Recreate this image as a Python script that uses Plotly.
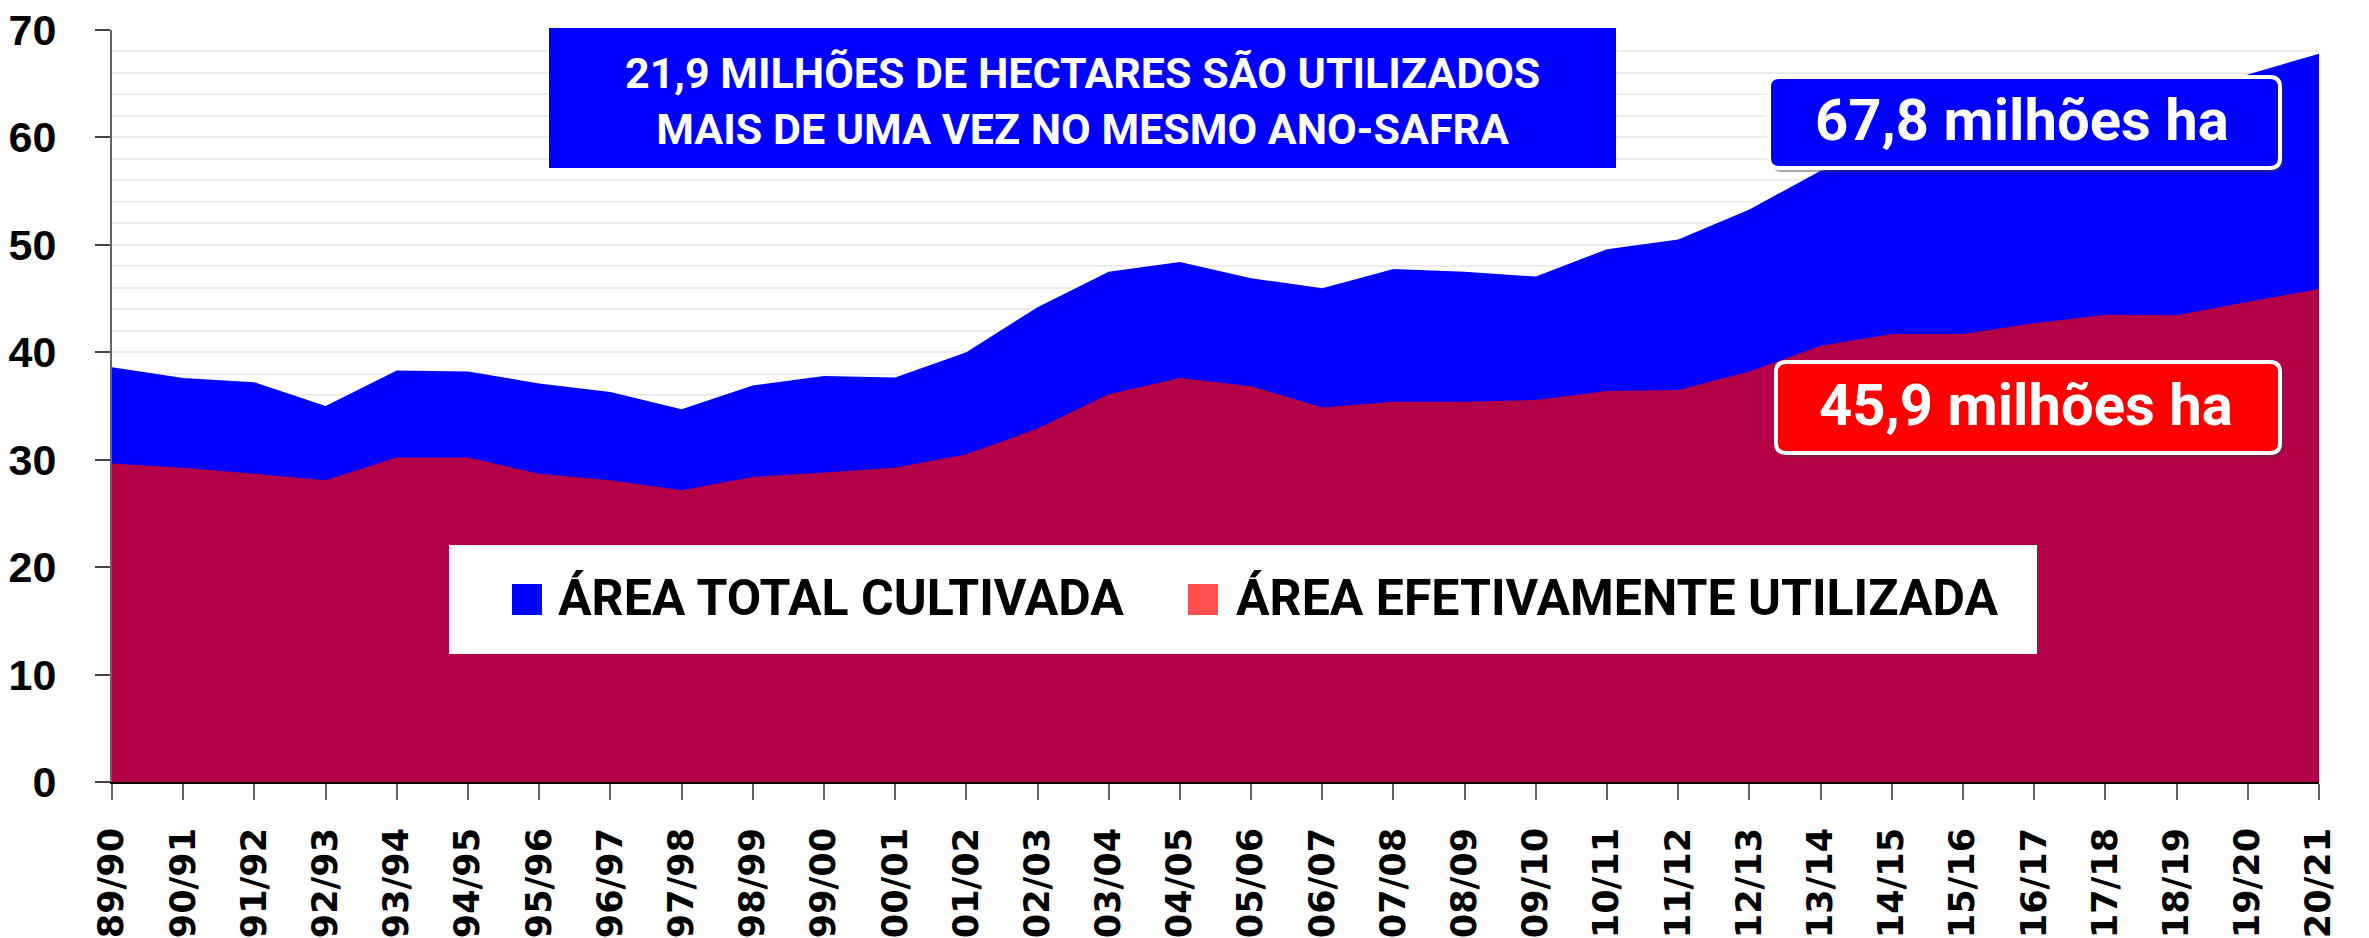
import plotly.graph_objects as go

# safras (crop years) and areas in millions of hectares
safras = ["89/90", "90/91", "91/92", "92/93", "93/94", "94/95", "95/96", "96/97",
          "97/98", "98/99", "99/00", "00/01", "01/02", "02/03", "03/04", "04/05",
          "05/06", "06/07", "07/08", "08/09", "09/10", "10/11", "11/12", "12/13",
          "13/14", "14/15", "15/16", "16/17", "17/18", "18/19", "19/20", "20/21"]

area_total = [38.6, 37.6, 37.2, 35.0, 38.3, 38.2, 37.1, 36.3, 34.7, 36.9,
              37.8, 37.65, 40.0, 44.2, 47.5, 48.4, 46.9, 45.95, 47.75, 47.5, 47.05,
              49.6, 50.5, 53.3, 56.9, 57.9, 58.3, 60.9, 61.7, 62.7, 65.85, 67.8]

area_efetiva = [29.65, 29.25, 28.7, 28.1, 30.2, 30.2, 28.7, 28.1, 27.15, 28.4,
                28.8, 29.25, 30.5, 32.9, 36.1, 37.6, 36.85, 34.85, 35.4, 35.4, 35.55,
                36.4, 36.5, 38.2, 40.6, 41.7, 41.7, 42.7, 43.5, 43.45, 44.7, 45.9]

legend_names = ["ÁREA TOTAL CULTIVADA", "ÁREA EFETIVAMENTE UTILIZADA"]
banner_text = "21,9 MILHÕES DE HECTARES SÃO UTILIZADOS<br>MAIS DE UMA VEZ NO MESMO ANO-SAFRA"
label_total = "67,8 milhões ha"
label_efetiva = "45,9 milhões ha"

BLUE = "#0000FF"
WINE = "#B30047"
RED = "#FF0000"
SWATCH_RED = "#FF4F4F"

W, H = 2369, 938
ML, MR, MT, MB = 112, 50, 30, 156
PW, PH = W - ML - MR, H - MT - MB


def px_x(x):
    return (x - ML) / PW


def px_y(y):
    return (H - MB - y) / PH


def rounded(x0, y0, x1, y1, r):
    # x0,y0,x1,y1 in pixels (y down), returns svg path in paper coords
    a, b, c, d = px_x(x0), px_y(y1), px_x(x1), px_y(y0)
    rx, ry = r / PW, r / PH
    return (f"M {a+rx},{b} L {c-rx},{b} Q {c},{b} {c},{b+ry} "
            f"L {c},{d-ry} Q {c},{d} {c-rx},{d} L {a+rx},{d} "
            f"Q {a},{d} {a},{d-ry} L {a},{b+ry} Q {a},{b} {a+rx},{b} Z")


fig = go.Figure()
fig.add_trace(go.Scatter(x=safras, y=area_total, mode="lines", fill="tozeroy",
                         fillcolor=BLUE, line=dict(width=0, color=BLUE),
                         name=legend_names[0]))
fig.add_trace(go.Scatter(x=safras, y=area_efetiva, mode="lines", fill="tozeroy",
                         fillcolor=WINE, line=dict(width=0, color=WINE),
                         name=legend_names[1]))

shapes = []
annotations = []

# banner
shapes.append(dict(type="rect", xref="paper", yref="paper", layer="above",
                   x0=px_x(549), x1=px_x(1616), y0=px_y(168), y1=px_y(28),
                   fillcolor=BLUE, line=dict(width=0)))
annotations.append(dict(xref="paper", yref="paper", x=px_x(1082), y=px_y(101),
                        text=banner_text, showarrow=False, align="center",
                        xanchor="center", yanchor="middle",
                        font=dict(family="Roboto", size=43, color="white", weight=700)))

# value boxes
for (x0, y0, x1, y1, color, txt, cx, cy) in [
        (1769, 77, 2280, 168, BLUE, label_total, 2022, 120),
        (1776, 362, 2280, 453, RED, label_efetiva, 2026, 405)]:
    shapes.append(dict(type="path", xref="paper", yref="paper", layer="above",
                       path=rounded(x0 + 3, y0 + 4, x1 + 3, y1 + 4, 10),
                       fillcolor="rgba(60,60,60,0.45)", line=dict(width=0)))
    shapes.append(dict(type="path", xref="paper", yref="paper", layer="above",
                       path=rounded(x0, y0, x1, y1, 10),
                       fillcolor=color, line=dict(width=4, color="white")))
    annotations.append(dict(xref="paper", yref="paper", x=px_x(cx), y=px_y(cy),
                            text=txt, showarrow=False, xanchor="center", yanchor="middle",
                            font=dict(family="Roboto", size=58, color="white", weight=700)))

# legend box
shapes.append(dict(type="rect", xref="paper", yref="paper", layer="above",
                   x0=px_x(449), x1=px_x(2037), y0=px_y(654), y1=px_y(545),
                   fillcolor="white", line=dict(width=0)))
for (sx, color, tx, name) in [(512, BLUE, 556, legend_names[0]),
                              (1188, SWATCH_RED, 1234, legend_names[1])]:
    shapes.append(dict(type="rect", xref="paper", yref="paper", layer="above",
                       x0=px_x(sx), x1=px_x(sx + 30), y0=px_y(615), y1=px_y(584),
                       fillcolor=color, line=dict(width=0)))
    annotations.append(dict(xref="paper", yref="paper", x=px_x(tx), y=px_y(598),
                            text=name, showarrow=False, xanchor="left", yanchor="middle",
                            font=dict(family="Roboto", size=50, color="black", weight=700)))

fig.update_layout(
    width=W, height=H,
    margin=dict(l=ML, r=MR, t=MT, b=MB),
    plot_bgcolor="white", paper_bgcolor="white",
    showlegend=False,
    shapes=shapes, annotations=annotations,
    xaxis=dict(type="category", range=[0, len(safras) - 1], automargin=False,
               showline=True, linecolor="black", linewidth=2,
               ticks="outside", ticklen=16, tickwidth=2, tickcolor="#666666",
               tickangle=-90, ticklabelstandoff=14,
               tickfont=dict(family="DejaVu Sans", size=35, color="black", weight=700),
               showgrid=False),
    yaxis=dict(range=[0, 70], dtick=10, automargin=False,
               showline=True, linecolor="#666666", linewidth=2,
               ticks="outside", ticklen=15, tickwidth=2, tickcolor="#444444",
               ticklabelstandoff=30,
               tickfont=dict(family="Liberation Sans", size=43, color="black", weight=700),
               showgrid=True, gridcolor="#EDEDED", gridwidth=2,
               minor=dict(dtick=2, showgrid=True, gridcolor="#EDEDED", gridwidth=2)),
)

fig.write_html("out.html", config={"displayModeBar": False},
               post_script="document.body.style.margin='0';")
